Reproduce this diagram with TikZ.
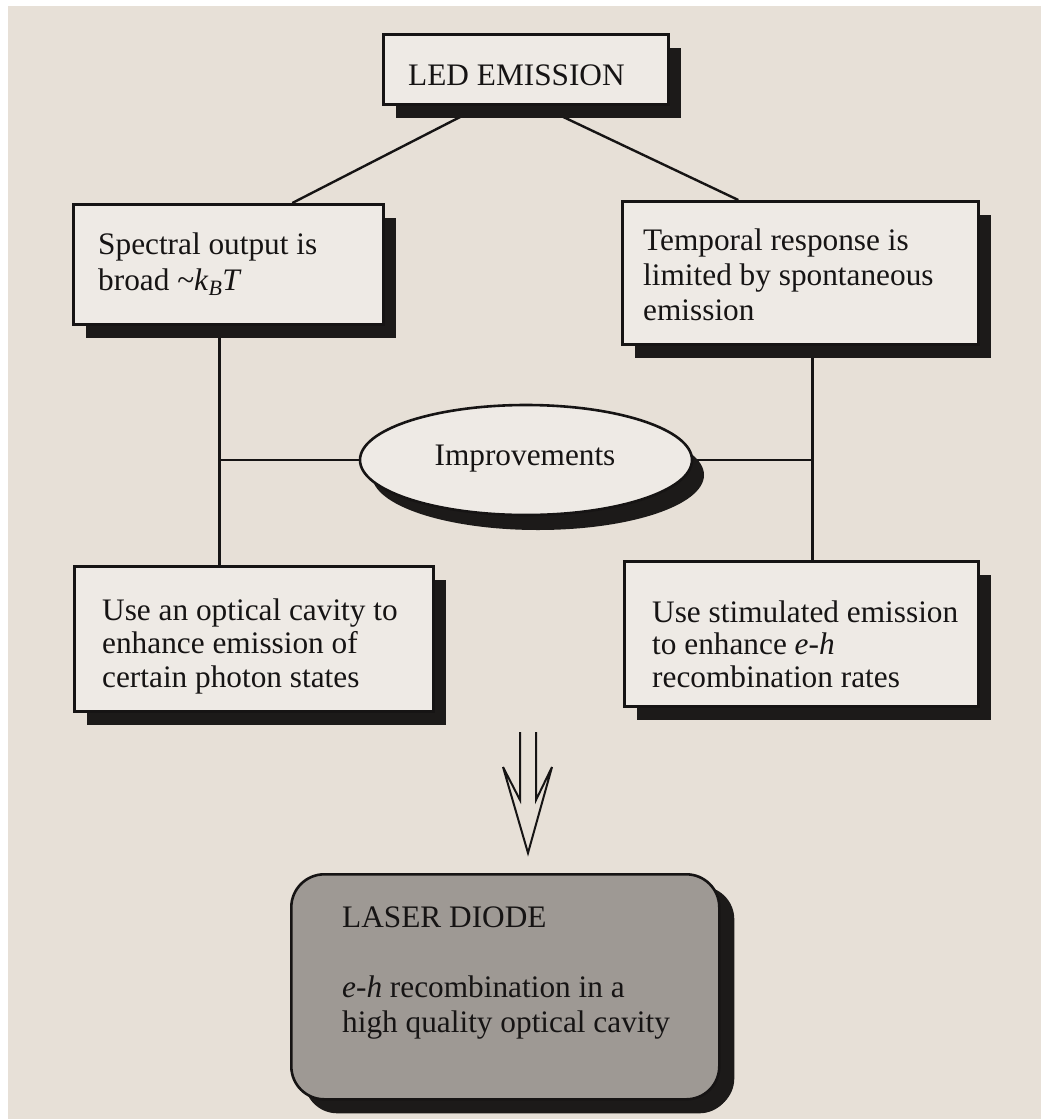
\documentclass[tikz,border=0pt]{standalone}
\usepackage{fontspec}
\setmainfont{Liberation Serif}
\usetikzlibrary{shadows,shapes.geometric,backgrounds}
\definecolor{page}{RGB}{231,224,215}
\definecolor{boxfill}{RGB}{238,234,229}
\definecolor{laserfill}{RGB}{158,153,148}
\definecolor{shade}{RGB}{28,26,25}
\definecolor{ink}{RGB}{22,20,20}
\begin{document}
\begin{tikzpicture}[x=1pt,y=-1pt,
  shadowed/.style={drop shadow={opacity=1,fill=shade,shadow xshift=13pt,shadow yshift=-14pt}},
  box/.style={draw=ink,line width=2.6pt,fill=boxfill,inner sep=0pt,anchor=north west,shadowed},
  conn/.style={draw=ink,line width=2.4pt},
  txt/.style={anchor=base west,inner sep=0pt,text=ink,font=\fontsize{31.3}{35}\selectfont}]
\useasboundingbox (0,0) rectangle (1041,1119);
% boxes
\node[box,minimum width=285pt,minimum height=70pt] (led) at (382,33) {};
\node[box,minimum width=310pt,minimum height=120pt] (spec) at (72,203) {};
\node[box,minimum width=356pt,minimum height=143pt] (temp) at (621,200) {};
\node[box,minimum width=359pt,minimum height=145pt] (opt) at (73,565) {};
\node[box,minimum width=354pt,minimum height=145pt] (stim) at (623,560) {};
\node[ellipse,draw=ink,line width=2.6pt,fill=boxfill,inner sep=0pt,minimum width=332pt,minimum height=110pt,
  drop shadow={opacity=1,fill=shade,shadow xshift=12pt,shadow yshift=-15pt}] (imp) at (526,460) {};
\node[box,rounded corners=33pt,fill=laserfill,minimum width=428pt,minimum height=225pt,
  drop shadow={opacity=1,fill=shade,shadow xshift=15pt,shadow yshift=-12pt}] (laser) at (290,873) {};
% texts
\node[txt] (ledt) at (408,85) {LED EMISSION};
\node[txt,font=\fontsize{31.3}{36}\selectfont] (spect) at (98,254)
  {\begin{tabular}[t]{@{}l@{}}Spectral output is\\broad \textasciitilde\textit{k}\textsubscript{\textit{B}}\textit{T}\end{tabular}};
\node[txt,font=\fontsize{31.3}{35}\selectfont] (tempt) at (643,250)
  {\begin{tabular}[t]{@{}l@{}}Temporal response is\\limited by spontaneous\\emission\end{tabular}};
\node[txt,anchor=base] (impt) at (525,465) {Improvements};
\node[txt,font=\fontsize{31.3}{33.5}\selectfont] (optt) at (102,620)
  {\begin{tabular}[t]{@{}l@{}}Use an optical cavity to\\enhance emission of\\certain photon states\end{tabular}};
\node[txt,font=\fontsize{31.3}{32.5}\selectfont] (stimt) at (652,622)
  {\begin{tabular}[t]{@{}l@{}}Use stimulated emission\\to enhance \textit{e-h}\\recombination rates\end{tabular}};
\node[txt] (lasert) at (342,927) {LASER DIODE};
\node[txt,font=\fontsize{31.3}{35}\selectfont] (laserd) at (342,997)
  {\begin{tabular}[t]{@{}l@{}}\textit{e-h} recombination in a\\high quality optical cavity\end{tabular}};
% hollow double arrow
\coordinate (arrtip) at (528,853);
\draw[ink,line width=2pt,line join=miter] (520,732) -- (520,800) -- (503,767) -- (arrtip)
  -- (552,767) -- (536,800) -- (536,732);
% background and connectors
\begin{scope}[on background layer]
\fill[white] (0,0) rectangle (1041,1119);
\fill[page] (8,6) rectangle (1041,1119);
\draw[conn] ([xshift=-43.5pt]led.south) -- ([xshift=64pt]spec.north);
\draw[conn] ([xshift=13.5pt]led.south) -- ([xshift=-62pt]temp.north);
\draw[conn] ([xshift=-9pt]spec.south) coordinate (lv) -- (lv |- opt.north);
\draw[conn] ([xshift=12pt]temp.south) coordinate (rv) -- (rv |- stim.north);
\draw[conn] (imp.west) -- (imp.west -| lv);
\draw[conn] (imp.east) -- (imp.east -| rv);
\end{scope}
\end{tikzpicture}
\end{document}
